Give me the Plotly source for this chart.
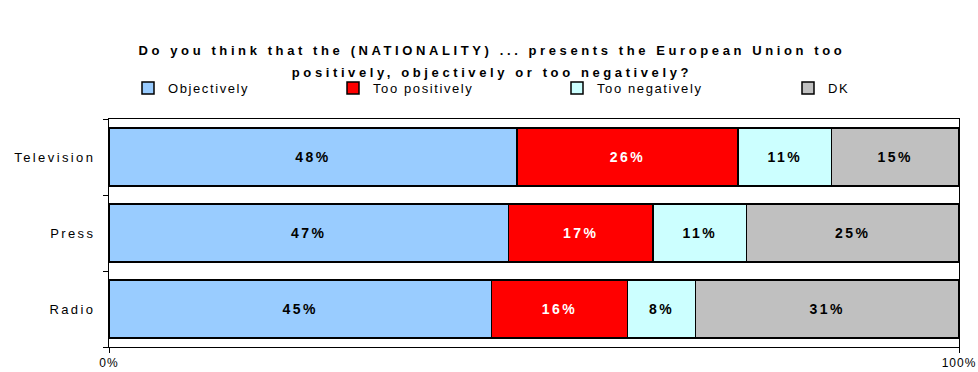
import plotly.graph_objects as go

categories = ["Television", "Press", "Radio"]
series_names = ["Objectively", "Too positively", "Too negatively", "DK"]
objectively = [48, 47, 45]
too_positively = [26, 17, 16]
too_negatively = [11, 11, 8]
dk = [15, 25, 31]
x_tick_vals = [0, 100]
x_tick_text = ["0%", "100%"]
title_lines = ["Do you think that the (NATIONALITY) ... presents the European Union too",
               "positively, objectively or too negatively?"]

W, H = 978, 372
ml, mr, mt, mb = 109, 19, 119, 25
plot_h = H - mt - mb
FONT = "Liberation Sans, Arial, sans-serif"


def spaced(s, px, size=None):
    style = f"letter-spacing:{px}px"
    if size:
        style += f";font-size:{size}px"
    return f'<span style="{style}">{s}</span>'


colors = ["#99CCFF", "#FF0000", "#CCFFFF", "#C0C0C0"]
text_colors = ["black", "white", "black", "black"]
values = [objectively, too_positively, too_negatively, dk]
legend_text_x = [168, 373, 597, 828]

fig = go.Figure()
for i, (name, vals) in enumerate(zip(series_names, values)):
    lg = "legend" if i == 0 else f"legend{i+1}"
    fig.add_trace(go.Bar(
        y=categories, x=vals, name=spaced(name, 1.6), orientation="h",
        marker=dict(color=colors[i], line=dict(color="black", width=1.5)),
        texttemplate=spaced("%{x}%", 2.5), textposition="inside",
        insidetextanchor="middle", textangle=0, constraintext="none",
        textfont=dict(family=FONT, size=14, color=text_colors[i], weight="bold"),
        width=0.76, legend=lg, hoverinfo="skip",
    ))

legend_y = (H - mb - 88) / plot_h
layout_legends = {}
for i in range(4):
    key = "legend" if i == 0 else f"legend{i+1}"
    px = legend_text_x[i] - 40
    layout_legends[key] = dict(
        x=(px - ml) / (W - ml - mr), xanchor="left",
        y=legend_y, yanchor="middle", orientation="h",
        bgcolor="rgba(0,0,0,0)", itemwidth=30,
        font=dict(family=FONT, size=13, color="black"),
    )

fig.update_layout(
    width=W, height=H,
    margin=dict(l=ml, r=mr, t=mt, b=mb, autoexpand=False),
    barmode="stack",
    plot_bgcolor="white", paper_bgcolor="white",
    title=dict(
        text=spaced(title_lines[0], 3.6, 13) + "<br>" + spaced(title_lines[1], 3.6, 13),
        x=0.503, xanchor="center", xref="container", y=1 - 55 / H, yanchor="middle",
        font=dict(family=FONT, size=17, color="black", weight="bold"),
    ),
    xaxis=dict(range=[0, 100], tickvals=x_tick_vals,
               ticktext=[spaced(t, 1) for t in x_tick_text],
               ticks="outside", ticklen=5, tickcolor="black",
               showline=True, linecolor="black", linewidth=1, mirror=True,
               showgrid=False, zeroline=False,
               tickfont=dict(family=FONT, size=12, color="black")),
    yaxis=dict(categoryorder="array", categoryarray=categories, autorange="reversed",
               tickvals=categories, ticktext=[spaced(c, 2.4) for c in categories],
               ticks="outside", ticklen=5, tickcolor="black", tickson="boundaries",
               showline=True, linecolor="black", linewidth=1, mirror=True,
               showgrid=False, zeroline=False, ticklabelstandoff=10,
               tickfont=dict(family=FONT, size=13, color="black")),
    showlegend=True,
    **layout_legends,
)

fig.write_html("out.html", config={"displayModeBar": False},
               post_script="document.body.style.margin='0';")
